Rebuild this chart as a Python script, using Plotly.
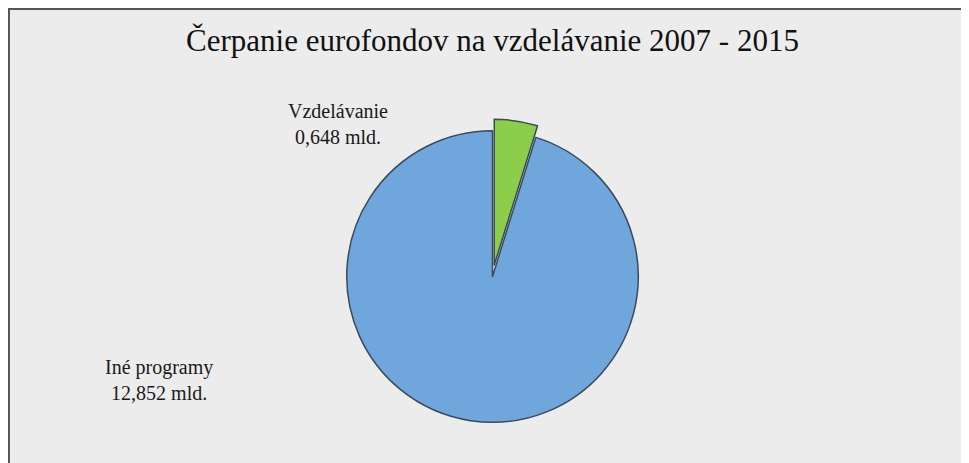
import plotly.graph_objects as go

# data
labels = ["Vzdelávanie", "Iné programy"]
values = [0.648, 12.852]
label_text = ["Vzdelávanie<br>0,648 mld.", "Iné programy<br>12,852 mld."]
colors = ["#8cce4a", "#6fa6dc"]

fig = go.Figure()
fig.add_trace(go.Pie(
    labels=labels, values=values, sort=False, direction="clockwise", rotation=0,
    pull=[0.08, 0], textinfo="none", hoverinfo="label+value",
    marker=dict(colors=colors, line=dict(color="#3a4a5a", width=1.5)),
    domain=dict(x=[0.25, 0.75], y=[0.08, 0.76]), showlegend=False,
))

# labels as annotations
fig.add_annotation(x=0.341, y=0.805, text=label_text[0], showarrow=False,
                   xref="paper", yref="paper", align="center",
                   font=dict(family="Liberation Serif", size=20, color="#1a1a1a"))
fig.add_annotation(x=0.098, y=0.14, text=label_text[1], showarrow=False,
                   xref="paper", yref="paper", align="center",
                   font=dict(family="Liberation Serif", size=20, color="#1a1a1a"))

fig.update_layout(
    width=969, height=463,
    margin=dict(l=0, r=0, t=0, b=0),
    paper_bgcolor="#ececec",
    title=dict(text="Čerpanie eurofondov na vzdelávanie 2007 - 2015",
               x=0.5, y=0.955, xanchor="center",
               font=dict(family="Liberation Serif", size=31, color="#111111")),
    shapes=[dict(type="rect", xref="paper", yref="paper", x0=0.001, y0=0.002, x1=0.999, y1=0.998,
                 line=dict(color="#555555", width=2))],
)

fig.write_html("out.html")
